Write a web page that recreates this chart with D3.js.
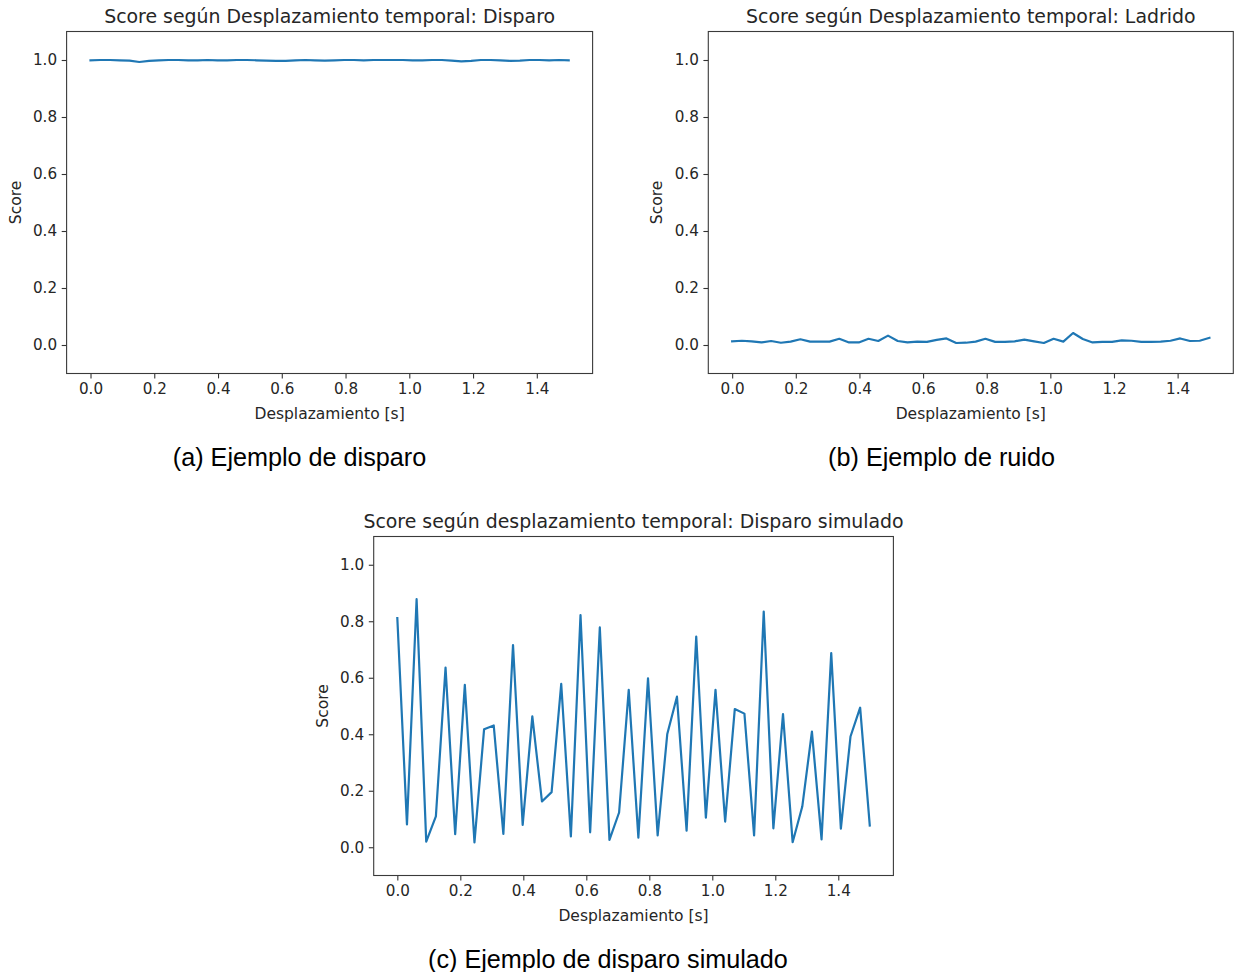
<!DOCTYPE html>
<html>
<head>
<meta charset="utf-8">
<script src="https://cdn.jsdelivr.net/npm/d3@7"></script>
<style>
  html, body { margin: 0; padding: 0; background: #fff; }
  svg { display: block; }
  .tick text { font-family: "DejaVu Sans", sans-serif; font-size: 15.2px; fill: #262626; }
  .tick line { stroke: #333; stroke-width: 1.1; }
</style>
</head>
<body>
<svg id="fig" width="1236" height="972"></svg>
<script>
// Time shift of each evaluation window, in seconds (50 windows over 1.5 s)
const shiftSeconds = [
  0.0000, 0.0306, 0.0612, 0.0918, 0.1224, 0.1531, 0.1837, 0.2143, 0.2449, 0.2755,
  0.3061, 0.3367, 0.3673, 0.3980, 0.4286, 0.4592, 0.4898, 0.5204, 0.5510, 0.5816,
  0.6122, 0.6429, 0.6735, 0.7041, 0.7347, 0.7653, 0.7959, 0.8265, 0.8571, 0.8878,
  0.9184, 0.9490, 0.9796, 1.0102, 1.0408, 1.0714, 1.1020, 1.1327, 1.1633, 1.1939,
  1.2245, 1.2551, 1.2857, 1.3163, 1.3469, 1.3776, 1.4082, 1.4388, 1.4694, 1.5000
];

// Classifier score per shift: real gunshot
const shotScores = [
  0.999, 1.000, 1.000, 0.999, 0.998, 0.993, 0.997, 0.999, 1.000, 1.000,
  0.999, 0.999, 1.000, 0.999, 0.999, 1.000, 1.000, 0.999, 0.998, 0.997,
  0.997, 0.999, 1.000, 0.999, 0.998, 0.999, 1.000, 1.000, 0.999, 1.000,
  1.000, 1.000, 1.000, 0.999, 0.999, 1.000, 1.000, 0.998, 0.995, 0.997,
  1.000, 1.000, 0.999, 0.997, 0.998, 1.000, 1.000, 0.999, 1.000, 0.999
];

// Classifier score per shift: dog bark (noise)
const barkScores = [
  0.013, 0.015, 0.013, 0.009, 0.014, 0.008, 0.012, 0.020, 0.012, 0.012,
  0.012, 0.022, 0.009, 0.009, 0.022, 0.014, 0.033, 0.014, 0.009, 0.012,
  0.011, 0.018, 0.023, 0.007, 0.008, 0.012, 0.022, 0.011, 0.011, 0.013,
  0.019, 0.013, 0.007, 0.022, 0.012, 0.042, 0.021, 0.009, 0.011, 0.011,
  0.016, 0.015, 0.011, 0.011, 0.012, 0.015, 0.023, 0.014, 0.015, 0.025
];

// Classifier score per shift: simulated gunshot
const simulatedScores = [
  0.811, 0.081, 0.878, 0.020, 0.109, 0.636, 0.046, 0.575, 0.017, 0.418,
  0.431, 0.047, 0.716, 0.079, 0.463, 0.162, 0.195, 0.578, 0.038, 0.822,
  0.053, 0.778, 0.026, 0.123, 0.557, 0.034, 0.598, 0.042, 0.401, 0.533,
  0.059, 0.746, 0.105, 0.557, 0.091, 0.489, 0.473, 0.042, 0.834, 0.067,
  0.471, 0.018, 0.144, 0.409, 0.028, 0.687, 0.066, 0.392, 0.494, 0.077
];

const xTicks = [0.0, 0.2, 0.4, 0.6, 0.8, 1.0, 1.2, 1.4];
const yTicks = [0.0, 0.2, 0.4, 0.6, 0.8, 1.0];
const xDomain = [-0.075, 1.575];
const yDomain = [-0.1, 1.1];

const panelTitles = [
  "Score según Desplazamiento temporal: Disparo",
  "Score según Desplazamiento temporal: Ladrido",
  "Score según desplazamiento temporal: Disparo simulado"
];
const captions = [
  "(a) Ejemplo de disparo",
  "(b) Ejemplo de ruido",
  "(c) Ejemplo de disparo simulado"
];
const xLabel = "Desplazamiento [s]";
const yLabel = "Score";

const svg = d3.select("#fig");
svg.append("rect").attr("width", 1236).attr("height", 972).attr("fill", "#fff");

const panels = [
  { box: { left: 66.6, right: 592.6, top: 31.5, bottom: 373.5 }, values: shotScores,
    title: panelTitles[0], caption: captions[0], capX: 299.5, capY: 466 },
  { box: { left: 708.3, right: 1233.3, top: 31.5, bottom: 373.5 }, values: barkScores,
    title: panelTitles[1], caption: captions[1], capX: 941.5, capY: 466 },
  { box: { left: 373.7, right: 893.4, top: 536.5, bottom: 875.5 }, values: simulatedScores,
    title: panelTitles[2], caption: captions[2], capX: 608, capY: 968 }
];

const textFont = "'DejaVu Sans', sans-serif";
const captionFont = "'Liberation Sans', Arial, Helvetica, sans-serif";

panels.forEach(p => {
  const b = p.box;
  const x = d3.scaleLinear().domain(xDomain).range([b.left, b.right]);
  const y = d3.scaleLinear().domain(yDomain).range([b.bottom, b.top]);
  const g = svg.append("g");

  // axes
  const xAxis = d3.axisBottom(x).tickValues(xTicks).tickFormat(d3.format(".1f"))
    .tickSize(4.9).tickPadding(4.4);
  const gx = g.append("g").attr("transform", `translate(0,${b.bottom})`).call(xAxis);
  gx.select(".domain").remove();

  const yAxis = d3.axisLeft(y).tickValues(yTicks).tickFormat(d3.format(".1f"))
    .tickSize(4.9).tickPadding(4.6);
  const gy = g.append("g").attr("transform", `translate(${b.left},0)`).call(yAxis);
  gy.select(".domain").remove();

  // data line
  const line = d3.line()
    .x((d, i) => x(shiftSeconds[i]))
    .y(d => y(d));
  g.append("path")
    .datum(p.values)
    .attr("d", line)
    .attr("fill", "none")
    .attr("stroke", "#1f77b4")
    .attr("stroke-width", 2.2)
    .attr("stroke-linejoin", "round")
    .attr("stroke-linecap", "square");

  // frame
  g.append("rect")
    .attr("x", b.left).attr("y", b.top)
    .attr("width", b.right - b.left).attr("height", b.bottom - b.top)
    .attr("fill", "none").attr("stroke", "#3a3a3a").attr("stroke-width", 1.1);

  // title
  g.append("text")
    .attr("x", (b.left + b.right) / 2).attr("y", b.top - 9)
    .attr("text-anchor", "middle")
    .attr("font-family", textFont).attr("font-size", 18.9)
    .attr("fill", "#262626")
    .text(p.title);

  // axis labels
  g.append("text")
    .attr("x", (b.left + b.right) / 2).attr("y", b.bottom + 45)
    .attr("text-anchor", "middle")
    .attr("font-family", textFont).attr("font-size", 15.5)
    .attr("fill", "#262626")
    .text(xLabel);

  g.append("text")
    .attr("transform", `translate(${b.left - 46},${(b.top + b.bottom) / 2}) rotate(-90)`)
    .attr("text-anchor", "middle")
    .attr("font-family", textFont).attr("font-size", 15.5)
    .attr("fill", "#262626")
    .text(yLabel);

  // sub-figure caption
  svg.append("text")
    .attr("x", p.capX).attr("y", p.capY)
    .attr("text-anchor", "middle")
    .attr("font-family", captionFont).attr("font-size", 25.2)
    .attr("fill", "#000")
    .text(p.caption);
});
</script>
</body>
</html>
